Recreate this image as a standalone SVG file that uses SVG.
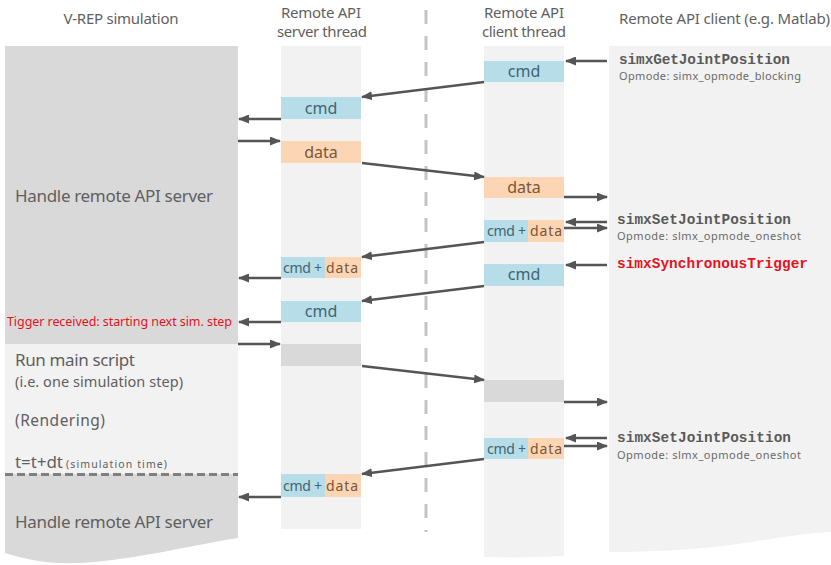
<svg xmlns="http://www.w3.org/2000/svg" width="831" height="565" viewBox="0 0 831 565">
<style>
text{font-family:"Noto Sans","Open Sans","Liberation Sans",sans-serif;fill:#5f5f5f}
.hdr{font-size:15px}
.big{font-size:17px}
.mid{font-size:15.5px}
.box{font-size:16px;text-anchor:middle}
.bx2{font-size:14px}
.c{fill:#3d6674}
.d{fill:#7a5736}
.mono{font-family:"Liberation Mono","Courier New",monospace;font-weight:bold;font-size:14.4px;fill:#5a5a5a}
.red{fill:#e3131f}
.op{font-size:11px;fill:#6a6a6a}
.blue{fill:#b7dde8}
.org{fill:#fcd5b5}
.gry{fill:#d9d9d9}
.lt{fill:#f2f2f2}
.arr{stroke:#555;stroke-width:2.6;fill:none;marker-end:url(#ah)}
</style>
<defs>
<marker id="ah" markerUnits="userSpaceOnUse" markerWidth="11" markerHeight="9" refX="10" refY="4.5" orient="auto">
<path d="M0,0 L11,4.5 L0,9 Z" fill="#555"/>
</marker>
</defs>
<rect width="831" height="565" fill="#ffffff"/>

<g id="headers">
<text class="hdr" x="121" y="24" text-anchor="middle" textLength="115">V-REP simulation</text>
<text class="hdr" x="321" y="18" text-anchor="middle" textLength="80">Remote API</text>
<text class="hdr" x="322" y="37" text-anchor="middle" textLength="90">server thread</text>
<text class="hdr" x="524" y="18" text-anchor="middle" textLength="80">Remote API</text>
<text class="hdr" x="524" y="37" text-anchor="middle" textLength="84">client thread</text>
<text class="hdr" x="619" y="24" textLength="211">Remote API client (e.g. Matlab)</text>
</g>

<g id="vrep-simulation">
<rect class="gry" x="5" y="46" width="233" height="298"/>
<rect class="lt" x="5" y="344" width="233" height="130"/>
<path class="gry" d="M5,474 H238 V538 C185,546 115,565 60,563 C35,562 15,556 5,553 Z"/>
<line x1="5" y1="474.5" x2="238" y2="474.5" stroke="#808080" stroke-width="3" stroke-dasharray="8 4"/>
<text class="big" x="15" y="202" textLength="198">Handle remote API server</text>
<text class="red" x="7" y="326" font-size="12.5" textLength="225">Tigger received: starting next sim. step</text>
<text class="big" x="15" y="366" textLength="120">Run main script</text>
<text x="15" y="387" font-size="14.5" textLength="168">(i.e. one simulation step)</text>
<text class="mid" x="15" y="426" textLength="90">(Rendering)</text>
<text class="big" x="15" y="468" textLength="48">t=t+dt</text>
<text x="66" y="468" font-size="10.5" textLength="101">(simulation time)</text>
<text class="big" x="15" y="528" textLength="198">Handle remote API server</text>
</g>

<g id="server-thread">
<rect class="lt" x="281" y="46" width="80" height="483"/>
<rect class="blue" x="281" y="97" width="80" height="22"/>
<text class="box c" x="321" y="114">cmd</text>
<rect class="org" x="281" y="141" width="80" height="22"/>
<text class="box d" x="321" y="158">data</text>
<rect class="blue" x="281" y="257" width="44" height="21"/>
<rect class="org" x="325" y="257" width="36" height="21"/>
<text class="bx2 c" x="283" y="273" textLength="39">cmd +</text>
<text class="bx2 d" x="326" y="273" textLength="32">data</text>
<rect class="blue" x="281" y="301" width="80" height="21"/>
<text class="box c" x="321" y="317">cmd</text>
<rect class="gry" x="281" y="344" width="80" height="22"/>
<rect class="blue" x="281" y="474" width="44" height="23"/>
<rect class="org" x="325" y="474" width="36" height="23"/>
<text class="bx2 c" x="283" y="491" textLength="39">cmd +</text>
<text class="bx2 d" x="326" y="491" textLength="32">data</text>
</g>

<g id="separator">
<line x1="426" y1="10" x2="426" y2="532" stroke="#c4c4c4" stroke-width="3" stroke-dasharray="14 12"/>
</g>

<g id="client-thread">
<path class="lt" d="M484,46 H564 V556 C540,557 510,558 484,557 Z"/>
<rect class="blue" x="484" y="61" width="80" height="21"/>
<text class="box c" x="524" y="77">cmd</text>
<rect class="org" x="484" y="177" width="80" height="21"/>
<text class="box d" x="524" y="193">data</text>
<rect class="blue" x="484" y="220" width="44" height="22"/>
<rect class="org" x="528" y="220" width="36" height="22"/>
<text class="bx2 c" x="487" y="236" textLength="39">cmd +</text>
<text class="bx2 d" x="530" y="236" textLength="32">data</text>
<rect class="blue" x="484" y="264" width="80" height="22"/>
<text class="box c" x="524" y="280">cmd</text>
<rect class="gry" x="484" y="380" width="80" height="22"/>
<rect class="blue" x="484" y="438" width="44" height="21"/>
<rect class="org" x="528" y="438" width="36" height="21"/>
<text class="bx2 c" x="487" y="454" textLength="39">cmd +</text>
<text class="bx2 d" x="530" y="454" textLength="32">data</text>
</g>

<g id="api-client">
<path class="lt" d="M609,46 H831 V532 C800,533 770,540 730,545 C690,550 650,552 609,552 Z"/>
<text class="mono" x="619" y="64" textLength="171">simxGetJointPosition</text>
<text class="op" x="619" y="80" textLength="182">Opmode: simx_opmode_blocking</text>
<text class="mono" x="617" y="224" textLength="174">simxSetJointPosition</text>
<text class="op" x="617" y="240" textLength="184">Opmode: slmx_opmode_oneshot</text>
<text class="mono red" x="617" y="268" textLength="191">simxSynchronousTrigger</text>
<text class="mono" x="617" y="442" textLength="174">simxSetJointPosition</text>
<text class="op" x="617" y="459" textLength="184">Opmode: slmx_opmode_oneshot</text>
</g>

<g id="connectors">
<line class="arr" x1="607" y1="61" x2="566" y2="61"/>
<line class="arr" x1="484" y1="82" x2="362" y2="97"/>
<line class="arr" x1="281" y1="119" x2="239" y2="119"/>
<line class="arr" x1="238" y1="141" x2="280" y2="141"/>
<line class="arr" x1="362" y1="163" x2="484" y2="177"/>
<line class="arr" x1="564" y1="197" x2="607" y2="197"/>
<line class="arr" x1="607" y1="222" x2="566" y2="222"/>
<line class="arr" x1="564" y1="228" x2="607" y2="228"/>
<line class="arr" x1="484" y1="242" x2="362" y2="257"/>
<line class="arr" x1="281" y1="278" x2="239" y2="278"/>
<line class="arr" x1="607" y1="265" x2="566" y2="265"/>
<line class="arr" x1="484" y1="286" x2="362" y2="301"/>
<line class="arr" x1="281" y1="322" x2="239" y2="322"/>
<line class="arr" x1="238" y1="344" x2="280" y2="344"/>
<line class="arr" x1="362" y1="366" x2="484" y2="380"/>
<line class="arr" x1="564" y1="402" x2="607" y2="402"/>
<line class="arr" x1="607" y1="438" x2="566" y2="438"/>
<line class="arr" x1="564" y1="446" x2="607" y2="446"/>
<line class="arr" x1="484" y1="459" x2="362" y2="474"/>
<line class="arr" x1="281" y1="497" x2="239" y2="497"/>
</g>
</svg>
